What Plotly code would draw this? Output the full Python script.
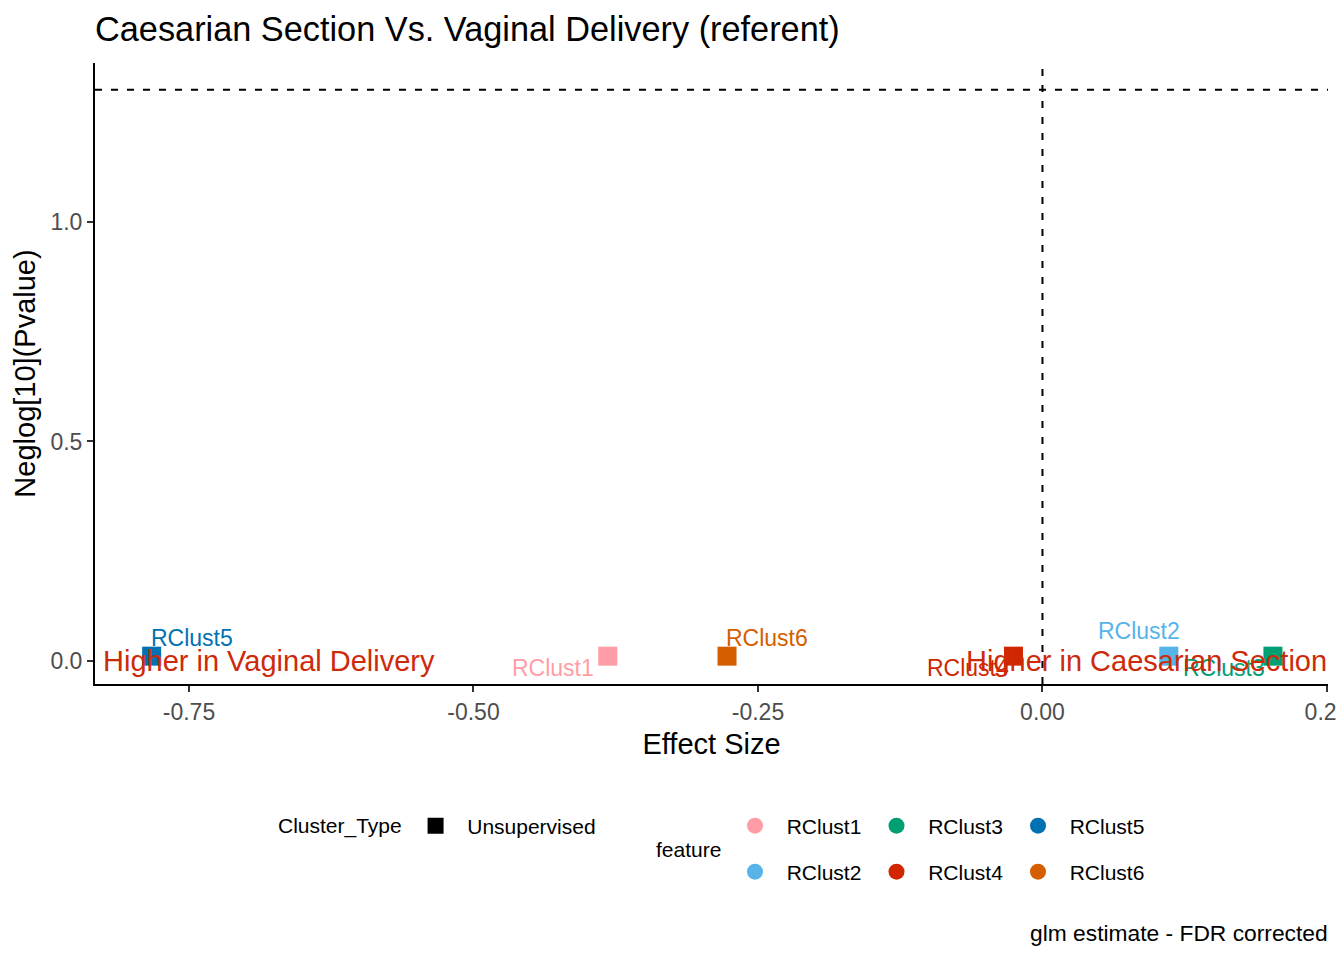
import plotly.graph_objects as go

# values
features = ["RClust1", "RClust2", "RClust3", "RClust4", "RClust5", "RClust6"]
effect_size = [-0.382, 0.111, 0.2025, -0.0255, -0.7828, -0.2772]
neglog_p = [0.011, 0.011, 0.011, 0.011, 0.011, 0.011]
cluster_type = ["Unsupervised"] * 6

x_ticks = [-0.75, -0.50, -0.25, 0.00, 0.25]
x_tick_labels = ["-0.75", "-0.50", "-0.25", "0.00", "0.25"]
y_ticks = [0.0, 0.5, 1.0]
y_tick_labels = ["0.0", "0.5", "1.0"]

p_cutoff_line = 1.30103  # -log10(0.05)

colors = {
    "RClust1": "#FF9DA6",
    "RClust2": "#56B4E9",
    "RClust3": "#009E73",
    "RClust4": "#D12600",
    "RClust5": "#0072B2",
    "RClust6": "#D55E00",
}

# where the repelled labels sit relative to their point (px)
label_offsets = {
    "RClust1": ("right", -12, -12),
    "RClust2": ("right", 13, 25),
    "RClust3": ("right", -6, -12),
    "RClust4": ("right", -2, -12),
    "RClust5": ("left", -3, 18),
    "RClust6": ("left", -3, 18),
}

FONT = "Liberation Sans, Arial, sans-serif"
NB = "\u00a0"

# page body has an 8px margin, so the figure is drawn 8px in
W, H = 1336, 952

fig = go.Figure()

for f, x, y in zip(features, effect_size, neglog_p):
    fig.add_trace(go.Scatter(
        x=[x], y=[y], mode="markers",
        marker=dict(symbol="square", size=19, color=colors[f]),
        showlegend=False, name=f,
    ))

# legend only entries
fig.add_trace(go.Scatter(
    x=[None], y=[None], mode="markers", name=NB * 2 + cluster_type[0],
    marker=dict(symbol="square", size=18, color="black"), legend="legend",
))
row1 = ["RClust1", "RClust3", "RClust5"]
for f in features:
    fig.add_trace(go.Scatter(
        x=[None], y=[None], mode="markers", name=NB * 2 + f,
        marker=dict(symbol="circle", size=18, color=colors[f]),
        legend="legend2" if f in row1 else "legend3",
    ))

for f, x, y in zip(features, effect_size, neglog_p):
    anchor, dx, dy = label_offsets[f]
    fig.add_annotation(
        x=x, y=y, text=f, showarrow=False, xanchor=anchor, yanchor="middle",
        xshift=dx, yshift=dy, font=dict(size=23, color=colors[f], family=FONT),
    )

fig.add_annotation(x=-0.826, y=0, text="Higher in Vaginal Delivery", showarrow=False,
                   xanchor="left", yanchor="middle", xshift=-2,
                   font=dict(size=29, color="#CD2A0A", family=FONT))
fig.add_annotation(x=0.25, y=0, text="Higher in Caesarian Section", showarrow=False,
                   xanchor="right", yanchor="middle", xshift=2,
                   font=dict(size=29, color="#CD2A0A", family=FONT))

fig.add_hline(y=p_cutoff_line, line=dict(color="black", width=2, dash="7px,9px"))
fig.add_vline(x=0, line=dict(color="black", width=2, dash="7px,9px"))

fig.add_annotation(x=(688 - 95) / 1233, y=(684 - 849) / 621, xref="paper", yref="paper",
                   text="feature", showarrow=False, xanchor="center", yanchor="middle",
                   font=dict(size=21, color="black", family=FONT))
fig.add_annotation(x=1, y=(684 - 933) / 621, xref="paper", yref="paper",
                   text="glm estimate - FDR corrected", showarrow=False,
                   xanchor="right", yanchor="middle", xshift=2,
                   font=dict(size=22.8, color="black", family=FONT))

legend_common = dict(orientation="h", xref="paper", yref="paper", yanchor="middle",
                     xanchor="left", bgcolor="rgba(0,0,0,0)",
                     font=dict(size=21, color="black", family=FONT))

fig.update_layout(
    width=W, height=H,
    margin=dict(l=87, r=16, t=55, b=276, autoexpand=False),
    plot_bgcolor="white", paper_bgcolor="white",
    font=dict(family=FONT, color="black"),
    title=dict(text="Caesarian Section Vs. Vaginal Delivery (referent)",
               x=0, xref="paper", xanchor="left", y=1 - 21 / H, yref="container",
               yanchor="middle", font=dict(size=34.3, color="black", family=FONT)),
    xaxis=dict(range=[-0.8326, 0.2509], tickvals=x_ticks, ticktext=x_tick_labels,
               showgrid=False, zeroline=False, showline=True, linecolor="black",
               linewidth=2, ticks="outside", ticklen=6, tickwidth=2, tickcolor="#333333",
               ticklabeloverflow="allow", automargin=False,
               tickfont=dict(size=23, color="#4D4D4D", family=FONT),
               title=dict(text="Effect Size", standoff=10,
                          font=dict(size=29, color="black", family=FONT))),
    yaxis=dict(range=[-0.0524, 1.362], tickvals=y_ticks, ticktext=y_tick_labels,
               showgrid=False, zeroline=False, showline=True, linecolor="black",
               linewidth=2, ticks="outside", ticklen=6, tickwidth=2, tickcolor="#333333",
               automargin=False,
               tickfont=dict(size=23, color="#4D4D4D", family=FONT),
               title=dict(text="Neglog[10](Pvalue)", standoff=6,
                          font=dict(size=29, color="black", family=FONT))),
    legend=dict(legend_common, x=(276 - 95) / 1233, y=(684 - 826) / 621,
                title=dict(text="Cluster_Type" + NB, side="left",
                           font=dict(size=21, color="black", family=FONT))),
    legend2=dict(legend_common, x=(735 - 95) / 1233, y=(684 - 826) / 621,
                 entrywidth=96.5),
    legend3=dict(legend_common, x=(735 - 95) / 1233, y=(684 - 872) / 621,
                 entrywidth=96.5),
)

fig.write_html("out.html")
